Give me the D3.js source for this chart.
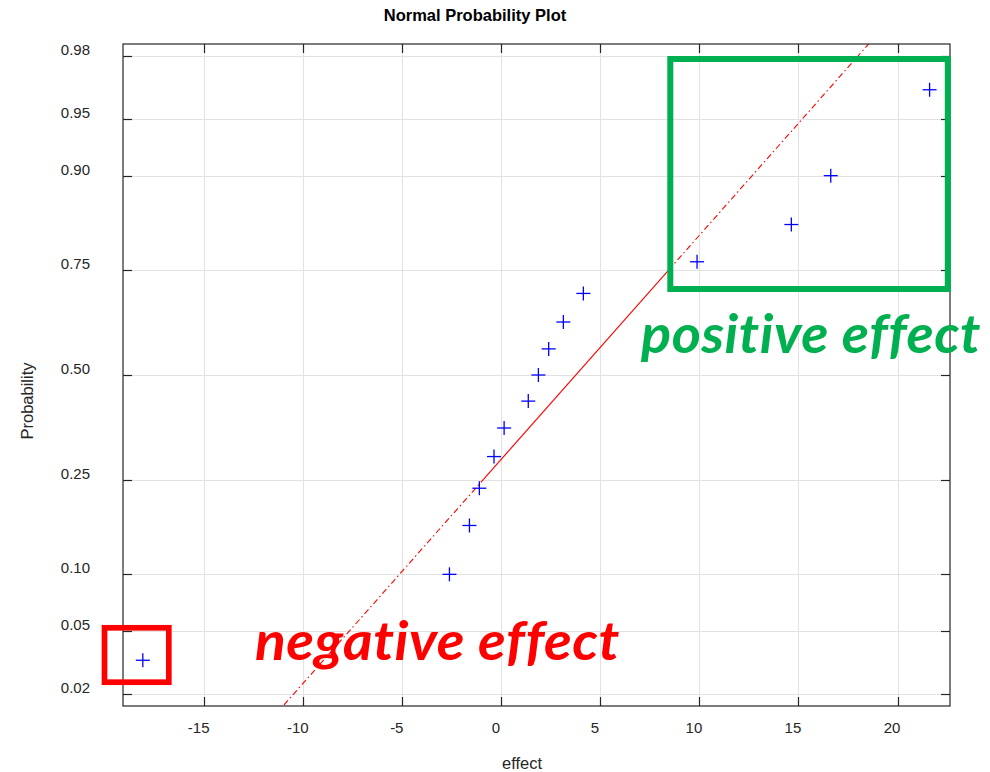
<!DOCTYPE html>
<html>
<head>
<meta charset="utf-8">
<script src="https://cdn.jsdelivr.net/npm/d3@7"></script>
<style>
  html, body { margin: 0; padding: 0; background: #fff; }
  svg { display: block; }
  .callout { font-variant-ligatures: none; font-feature-settings: "liga" 0, "clig" 0, "dlig" 0; letter-spacing: 0.5px; }
</style>
</head>
<body>
<svg id="chart" width="990" height="772"></svg>
<script>
// Effect estimates, sorted ascending
const effects = [-18.1, -2.62, -1.61, -1.11, -0.37, 0.14, 1.36, 1.87, 2.39, 3.13, 4.14, 9.88, 14.64, 16.63, 21.62];
const xTicks = [-15, -10, -5, 0, 5, 10, 15, 20];
const probTicks = [0.02, 0.05, 0.10, 0.25, 0.50, 0.75, 0.90, 0.95, 0.98];
const probTickLabels = ["0.02", "0.05", "0.10", "0.25", "0.50", "0.75", "0.90", "0.95", "0.98"];
const xDomain = [-19.1, 22.65];

// Inverse standard normal CDF (Acklam's rational approximation)
function norminv(p) {
  const a = [-3.969683028665376e+01, 2.209460984245205e+02, -2.759285104469687e+02, 1.383577518672690e+02, -3.066479806614716e+01, 2.506628277459239e+00];
  const b = [-5.447609879822406e+01, 1.615858368580409e+02, -1.556989798598866e+02, 6.680131188771972e+01, -1.328068155288572e+01];
  const c = [-7.784894002430293e-03, -3.223964580411365e-01, -2.400758277161838e+00, -2.549732539343734e+00, 4.374664141464968e+00, 2.938163982698783e+00];
  const d = [7.784695709041462e-03, 3.224671290700398e-01, 2.445134137142996e+00, 3.754408661907416e+00];
  const plow = 0.02425, phigh = 1 - plow;
  let q, r;
  if (p < plow) {
    q = Math.sqrt(-2 * Math.log(p));
    return (((((c[0]*q+c[1])*q+c[2])*q+c[3])*q+c[4])*q+c[5]) / ((((d[0]*q+d[1])*q+d[2])*q+d[3])*q+1);
  } else if (p <= phigh) {
    q = p - 0.5; r = q * q;
    return (((((a[0]*r+a[1])*r+a[2])*r+a[3])*r+a[4])*r+a[5])*q / (((((b[0]*r+b[1])*r+b[2])*r+b[3])*r+b[4])*r+1);
  } else {
    q = Math.sqrt(-2 * Math.log(1 - p));
    return -(((((c[0]*q+c[1])*q+c[2])*q+c[3])*q+c[4])*q+c[5]) / ((((d[0]*q+d[1])*q+d[2])*q+d[3])*q+1);
  }
}

// Percentile with midpoint plotting positions
function prctile(sorted, pct) {
  const n = sorted.length;
  const pos = n * pct / 100 + 0.5;
  const i = Math.floor(pos), f = pos - i;
  if (i < 1) return sorted[0];
  if (i >= n) return sorted[n - 1];
  return sorted[i - 1] + f * (sorted[i] - sorted[i - 1]);
}

const n = effects.length;
const points = effects.map((v, i) => ({ x: v, p: (i + 0.5) / n }));

const margin = { left: 123, top: 44, right: 40, bottom: 66 };
const W = 990, H = 772;
const iw = W - margin.left - margin.right; // 827
const ih = H - margin.top - margin.bottom; // 662

const x = d3.scaleLinear().domain(xDomain).range([0, iw]);
const zMax = -norminv(0.25 / n);
const y = d3.scaleLinear().domain([-zMax, zMax]).range([ih, 0]);
const yp = p => y(norminv(p));

const svg = d3.select("#chart");
const axisColor = "#262626";
const font = "'Liberation Sans', Arial, Helvetica, sans-serif";

const g = svg.append("g").attr("transform", `translate(${margin.left},${margin.top})`);

g.append("defs").append("clipPath").attr("id", "plotClip")
  .append("rect").attr("x", 0).attr("y", 0).attr("width", iw).attr("height", ih);

// Grid
const snap = v => Math.round(v) + 0.5;
g.append("g").selectAll("line.vg").data(xTicks).join("line")
  .attr("x1", d => snap(x(d))).attr("x2", d => snap(x(d)))
  .attr("y1", 0).attr("y2", ih)
  .attr("stroke", "#e2e2e2").attr("stroke-width", 1);
g.append("g").selectAll("line.hg").data(probTicks).join("line")
  .attr("x1", 0).attr("x2", iw)
  .attr("y1", d => snap(yp(d))).attr("y2", d => snap(yp(d)))
  .attr("stroke", "#e2e2e2").attr("stroke-width", 1);

// Reference line through the quartiles
const q1 = prctile(effects, 25), q3 = prctile(effects, 75);
const z1 = norminv(0.25), z3 = norminv(0.75);
const slope = (z3 - z1) / (q3 - q1);
const zAt = v => z1 + slope * (v - q1);
const lineG = g.append("g").attr("clip-path", "url(#plotClip)");
lineG.append("line")
  .attr("x1", x(xDomain[0])).attr("y1", y(zAt(xDomain[0])))
  .attr("x2", x(q1)).attr("y2", y(z1))
  .attr("stroke", "#ff0000").attr("stroke-width", 1.1)
  .attr("stroke-dasharray", "6,3,1.5,3");
lineG.append("line")
  .attr("x1", x(q3)).attr("y1", y(z3))
  .attr("x2", x(xDomain[1])).attr("y2", y(zAt(xDomain[1])))
  .attr("stroke", "#ff0000").attr("stroke-width", 1.1)
  .attr("stroke-dasharray", "6,3,1.5,3");
lineG.append("line")
  .attr("x1", x(q1)).attr("y1", y(z1))
  .attr("x2", x(q3)).attr("y2", y(z3))
  .attr("stroke", "#ff0000").attr("stroke-width", 1.1);

// Data markers
const arm = 7;
const marks = g.append("g").selectAll("g.pt").data(points).join("g")
  .attr("transform", d => `translate(${x(d.x)},${yp(d.p)})`);
marks.append("line").attr("x1", -arm).attr("x2", arm).attr("y1", 0).attr("y2", 0)
  .attr("stroke", "#0000ff").attr("stroke-width", 1.3);
marks.append("line").attr("x1", 0).attr("x2", 0).attr("y1", -arm).attr("y2", arm)
  .attr("stroke", "#0000ff").attr("stroke-width", 1.3);

// Axes box with inward ticks
const tickLen = 9;
const box = g.append("g").attr("stroke", axisColor).attr("stroke-width", 1.2).attr("fill", "none");
box.append("rect").attr("x", 0).attr("y", 0).attr("width", iw).attr("height", ih);
xTicks.forEach(t => {
  const px = snap(x(t));
  box.append("line").attr("x1", px).attr("x2", px).attr("y1", ih).attr("y2", ih - tickLen);
  box.append("line").attr("x1", px).attr("x2", px).attr("y1", 0).attr("y2", tickLen);
});
probTicks.forEach(p => {
  const py = snap(yp(p));
  box.append("line").attr("x1", 0).attr("x2", tickLen).attr("y1", py).attr("y2", py);
  box.append("line").attr("x1", iw).attr("x2", iw - tickLen).attr("y1", py).attr("y2", py);
});

// Tick labels
g.append("g").selectAll("text").data(xTicks).join("text")
  .attr("x", d => x(d) - 5.5).attr("y", ih + 26.5)
  .attr("text-anchor", "middle")
  .attr("font-family", font).attr("font-size", 15).attr("fill", axisColor)
  .text(d => d);
g.append("g").selectAll("text").data(probTicks).join("text")
  .attr("x", 90 - margin.left).attr("y", d => yp(d) - 1)
  .attr("text-anchor", "end")
  .attr("font-family", font).attr("font-size", 15).attr("fill", axisColor)
  .text((d, i) => probTickLabels[i]);

// Title and axis labels
svg.append("text").attr("x", 475).attr("y", 20.5).attr("text-anchor", "middle")
  .attr("font-family", font).attr("font-size", 16.5).attr("font-weight", "bold").attr("fill", "#000")
  .text("Normal Probability Plot");
svg.append("text").attr("x", 522).attr("y", 769).attr("text-anchor", "middle")
  .attr("font-family", font).attr("font-size", 16.5).attr("fill", axisColor)
  .text("effect");
svg.append("text").attr("transform", "translate(33,401) rotate(-90)").attr("text-anchor", "middle")
  .attr("font-family", font).attr("font-size", 16.5).attr("fill", axisColor)
  .text("Probability");

// Highlight boxes and callouts
const green = "#00b050", red = "#ff0000";
svg.append("rect").attr("x", 670.3).attr("y", 59).attr("width", 277.5).attr("height", 230)
  .attr("fill", "none").attr("stroke", green).attr("stroke-width", 6);
svg.append("rect").attr("x", 104.5).attr("y", 627.8).attr("width", 64.3).attr("height", 54.4)
  .attr("fill", "none").attr("stroke", red).attr("stroke-width", 5.7);

const calloutFont = "Lato, 'Open Sans', 'Noto Sans', sans-serif";
svg.append("text").attr("class", "callout").attr("x", 641).attr("y", 353)
  .attr("font-family", calloutFont).attr("font-size", 54).attr("font-weight", "bold").attr("font-style", "italic")
  .attr("fill", green).attr("textLength", 340).attr("lengthAdjust", "spacingAndGlyphs")
  .text("positive effect");
svg.append("text").attr("class", "callout").attr("x", 255).attr("y", 660)
  .attr("font-family", calloutFont).attr("font-size", 54).attr("font-weight", "bold").attr("font-style", "italic")
  .attr("fill", red).attr("textLength", 365).attr("lengthAdjust", "spacingAndGlyphs")
  .text("negative effect");
</script>
</body>
</html>
